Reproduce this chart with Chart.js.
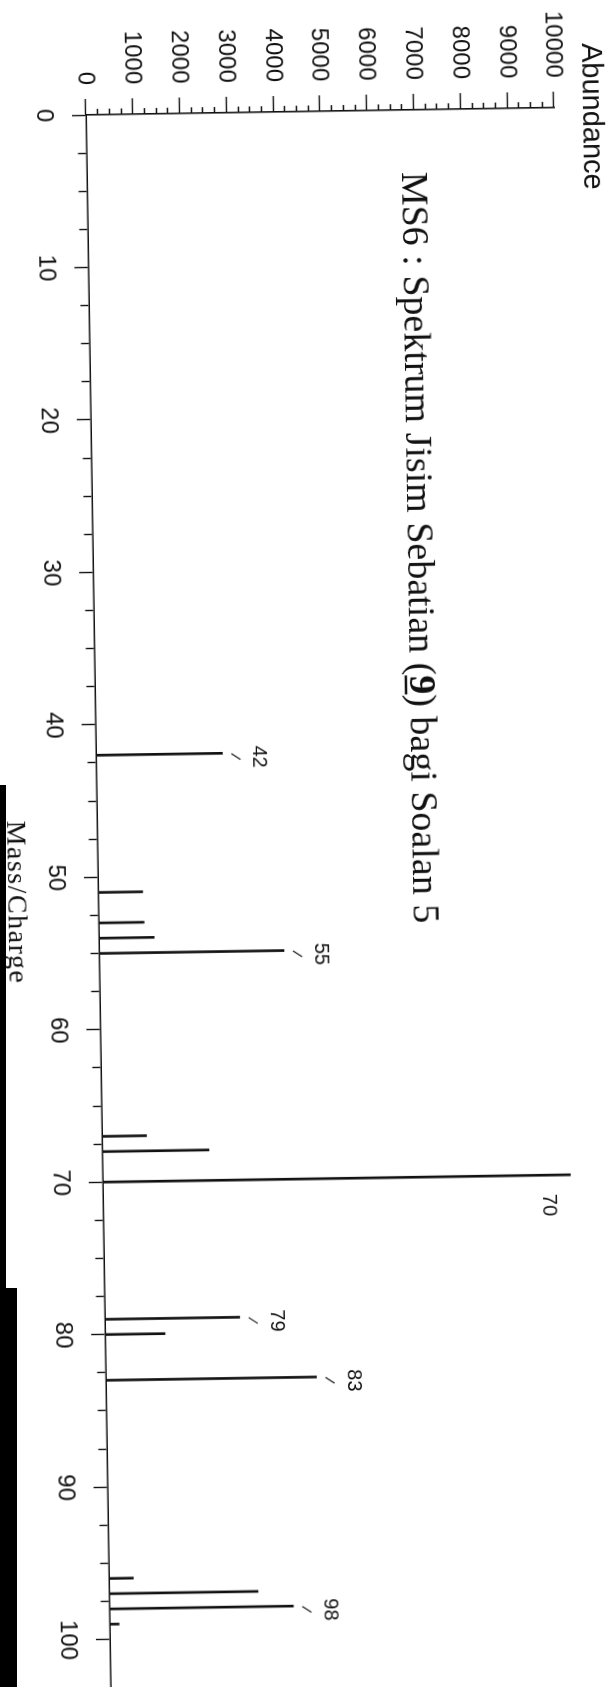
<!DOCTYPE html>
<html>
<head>
<meta charset="utf-8">
<script src="https://cdn.jsdelivr.net/npm/chart.js@4.4.1/dist/chart.umd.min.js"></script>
<style>
html,body{margin:0;padding:0;background:#fff;}
body{width:611px;height:1687px;overflow:hidden;position:relative;}
#wrap{position:absolute;left:-34px;top:-415px;width:1712px;height:650px;transform-origin:120px 530px;transform:rotate(89.1deg);}
canvas{display:block;}
.strip{position:absolute;background:#000;}
</style>
</head>
<body>
<div id="wrap"><canvas id="c" width="1712" height="650" style="width:1712px;height:650px"></canvas></div>
<div class="strip" style="left:0;top:785px;width:6px;height:505px"></div>
<div class="strip" style="left:0;top:1288px;width:17px;height:399px"></div>
<script>
// ---- data ----
const massCharge = [42, 51, 53, 54, 55, 67, 68, 70, 79, 80, 83, 96, 97, 98, 99];
const abundance  = [2700, 950, 970, 1180, 3950, 950, 2280, 10000, 2880, 1280, 4500, 520, 3180, 3930, 200];
const labelledPeaks = [42, 55, 70, 79, 83, 98];
const massTickLabels = ['0','10','20','30','40','50','60','70','80','90','100'];
const abundanceTickLabels = ['0','1000','2000','3000','4000','5000','6000','7000','8000','9000','10000'];
const titleParts = ['MS6 : Spektrum Jisim Sebatian (', '9', ') bagi Soalan 5'];
const xTitle = 'Mass/Charge';
const yTitle = 'Abundance';

const SANS = '"Liberation Sans", Arial, sans-serif';
const SERIF = '"Liberation Serif", "Times New Roman", serif';
const INK = '#111';

function isMult(v, step){ return Math.abs(v/step - Math.round(v/step)) < 1e-6; }

const annot = {
  id: 'annot',
  afterDraw(chart) {
    const {ctx, chartArea, scales: {x, y}} = chart;
    ctx.save();
    ctx.fillStyle = INK; ctx.strokeStyle = INK;
    // peak labels with leader slash
    ctx.font = '20px ' + SANS;
    ctx.textAlign = 'center'; ctx.textBaseline = 'alphabetic';
    labelledPeaks.forEach(m => {
      const i = massCharge.indexOf(m);
      const px = x.getPixelForValue(m), py = y.getPixelForValue(abundance[i]);
      if (abundance[i] >= 10000) {
        ctx.fillText(String(m), px + 30, py + 28);
      } else {
        ctx.lineWidth = 1.1;
        ctx.beginPath(); ctx.moveTo(px + 0.5, py - 9); ctx.lineTo(px + 6.5, py - 18); ctx.stroke();
        ctx.fillText(String(m), px + 4, py - 31);
      }
    });
    // axis titles
    ctx.textAlign = 'left';
    ctx.font = '29px ' + SANS;
    ctx.fillText(yTitle, chartArea.left - 64, chartArea.top - 29);
    ctx.font = '28px ' + SERIF;
    ctx.letterSpacing = '1.5px';
    ctx.fillText(xTitle, x.getPixelForValue(46.2), chartArea.bottom + 90);
    ctx.letterSpacing = '0px';
    // title inside plot
    let tx = x.getPixelForValue(4.06);
    const ty = y.getPixelForValue(6730);
    ctx.font = '38px ' + SERIF;
    ctx.fillText(titleParts[0], tx, ty);
    tx += ctx.measureText(titleParts[0]).width;
    ctx.font = 'bold 38px ' + SERIF;
    ctx.fillText(titleParts[1], tx, ty);
    const w9 = ctx.measureText(titleParts[1]).width;
    ctx.lineWidth = 2.5;
    ctx.beginPath(); ctx.moveTo(tx, ty + 4); ctx.lineTo(tx + w9, ty + 4); ctx.stroke();
    tx += w9;
    ctx.font = '38px ' + SERIF;
    ctx.fillText(titleParts[2], tx, ty);
    ctx.restore();
  }
};

new Chart(document.getElementById('c'), {
  type: 'bar',
  data: {
    datasets: [{
      data: massCharge.map((m, i) => ({x: m, y: abundance[i]})),
      backgroundColor: INK,
      borderWidth: 0,
      barThickness: 2
    }]
  },
  options: {
    responsive: false,
    animation: false,
    devicePixelRatio: 1,
    layout: {padding: {top: 62, left: 0, right: 10, bottom: 0}},
    plugins: {legend: {display: false}, tooltip: {enabled: false}, title: {display: false}},
    scales: {
      x: {
        type: 'linear', min: 0, max: 103.5, offset: false,
        afterFit(s) { s.height = 120; },
        border: {display: true, color: INK, width: 1.6},
        grid: {
          offset: false, drawOnChartArea: false, drawTicks: true, tickLength: 14,
          color: INK, tickColor: INK, tickWidth: 1.4,
          tickBorderDash: c => (c.tick && isMult(c.tick.value, 10)) ? [] : [8, 1000]
        },
        ticks: {
          stepSize: 2.5, autoSkip: false, maxRotation: 0, minRotation: 0, padding: 14,
          color: INK, font: {family: SANS, size: 24},
          callback: v => isMult(v, 10) ? (massTickLabels[Math.round(v / 10)] ?? '') : ''
        }
      },
      y: {
        type: 'linear', min: 0, max: 10000,
        afterFit(s) { s.width = 120; },
        border: {display: true, color: INK, width: 1.6},
        grid: {
          drawOnChartArea: false, drawTicks: true, tickLength: 16,
          color: INK, tickColor: INK, tickWidth: 1.4,
          tickBorderDash: c => (c.tick && isMult(c.tick.value, 1000)) ? [] : [0, 10, 6, 1000]
        },
        ticks: {
          stepSize: 250, autoSkip: false, padding: 14,
          color: INK, font: {family: SANS, size: 24},
          callback: v => isMult(v, 1000) ? (abundanceTickLabels[Math.round(v / 1000)] ?? '') : ''
        }
      }
    }
  },
  plugins: [annot]
});
</script>
</body>
</html>
